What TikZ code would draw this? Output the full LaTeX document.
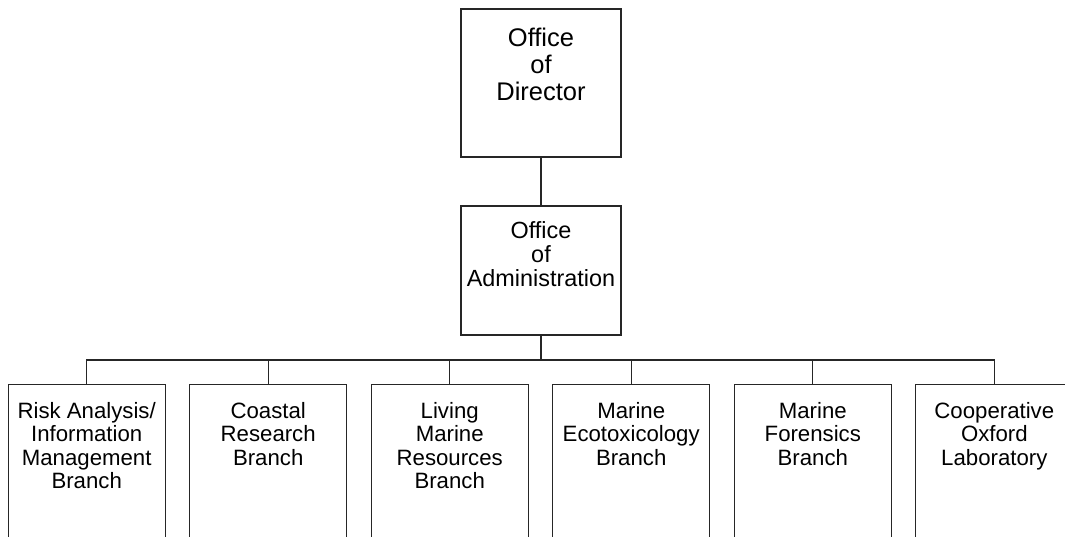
\documentclass[tikz,border=0pt]{standalone}
\usepackage{fontspec}
\setmainfont{Liberation Sans}
\usetikzlibrary{calc}
\begin{document}
\begin{tikzpicture}[x=1pt,y=-1pt,
  line/.style={draw=black!85,line width=1.1pt},
  box/.style={line,rectangle,inner sep=0pt,fill=none},
  toptext/.style={font=\fontsize{25.5}{27}\selectfont,align=center,inner sep=0pt,anchor=north},
  midtext/.style={font=\fontsize{23.4}{24}\selectfont,align=center,inner sep=0pt,anchor=north},
  branchtext/.style={font=\fontsize{22.2}{23.5}\selectfont,align=center,inner sep=0pt,anchor=north},
  branch/.style={box,minimum width=157pt,minimum height=220pt,anchor=north}]
  \useasboundingbox (0,0) rectangle (1065,536);
  \clip (0,0) rectangle (1065,536);

  % top levels
  \node[box,minimum width=160pt,minimum height=148pt] (dir) at (541,83) {};
  \node[toptext] (dirt) at (541,28) {Office\\of\\Director};
  \node[box,minimum width=160pt,minimum height=129pt] (adm) at (541,270.5) {};
  \node[midtext] (admt) at (541,221.6) {Office\\of\\Administration};

  % branches
  \foreach \i/\cx/\txt in {1/86.7/{Risk Analysis/\\Information\\Management\\Branch},
                           2/268.2/{Coastal\\Research\\Branch},
                           3/449.7/{Living\\Marine\\Resources\\Branch},
                           4/631.2/{Marine\\Ecotoxicology\\Branch},
                           5/812.8/{Marine\\Forensics\\Branch},
                           6/994.3/{Cooperative\\Oxford\\Laboratory}} {
    \node[branch] (b\i) at (\cx,384) {};
    \node[branchtext] (t\i) at (\cx,402) {\txt};
  }

  % connectors
  \coordinate (bus) at (541,360);
  \draw[line] (dir.south) -- (adm.north);
  \draw[line] (adm.south) -- (bus);
  \draw[line] (b1.north) -- (b1.north |- bus) -- (b6.north |- bus) -- (b6.north);
  \foreach \i in {2,3,4,5} {
    \draw[line] (b\i.north) -- (b\i.north |- bus);
  }
\end{tikzpicture}
\end{document}
